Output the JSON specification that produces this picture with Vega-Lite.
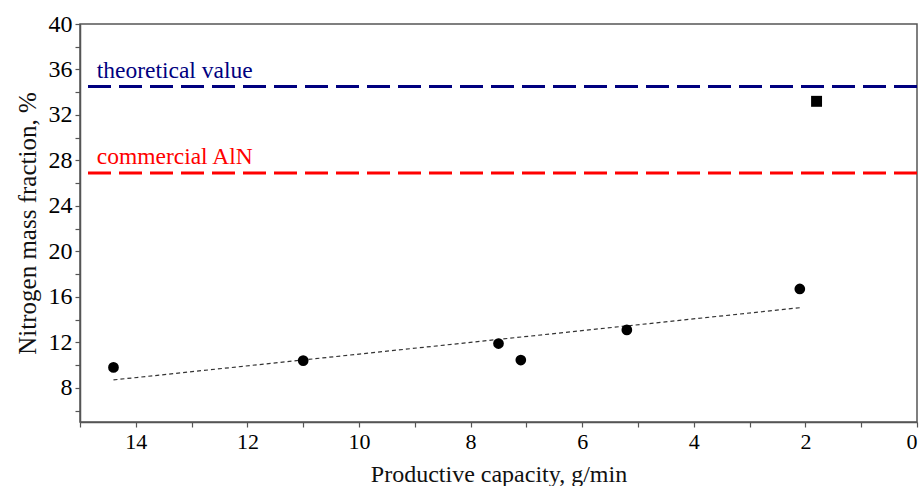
{
  "$schema": "https://vega.github.io/schema/vega-lite/v6.json",
  "width": 837,
  "height": 398,
  "autosize": "none",
  "padding": {"left": 80, "top": 24, "right": 5, "bottom": 64},
  "background": "white",
  "config": {
    "view": {"stroke": "#555555", "strokeWidth": 1.5},
    "font": "Liberation Serif",
    "axis": {
      "grid": false,
      "domainColor": "#555555",
      "domainWidth": 1.5,
      "tickColor": "#555555",
      "tickWidth": 1.2,
      "tickSize": 5,
      "labelOverlap": false,
      "titleFontWeight": "normal",
      "titleColor": "#111111"
    }
  },
  "datasets": {
    "points": [
      {"cap": 14.4, "n": 9.8},
      {"cap": 11.0, "n": 10.4},
      {"cap": 7.5, "n": 11.9},
      {"cap": 7.1, "n": 10.45},
      {"cap": 5.2, "n": 13.1},
      {"cap": 2.1, "n": 16.7}
    ],
    "square": [{"cap": 1.8, "n": 33.2}],
    "trend": [
      {"cap": 14.4, "n": 8.7},
      {"cap": 2.1, "n": 15.05}
    ],
    "refs": [
      {"label": "theoretical value", "n": 34.5, "tx": 14.7, "kind": "theo"},
      {"label": "commercial AlN", "n": 26.9, "tx": 14.7, "kind": "comm"}
    ]
  },
  "encoding": {
    "y": {
      "field": "n", "type": "quantitative",
      "scale": {"domain": [5, 40], "nice": false, "zero": false},
      "axis": {
        "title": "Nitrogen mass fraction, %",
        "values": [6, 8, 10, 12, 14, 16, 18, 20, 22, 24, 26, 28, 30, 32, 34, 36, 38, 40],
        "labelExpr": "datum.value % 4 == 0 ? datum.label : ''",
        "titleFontSize": 25,
        "labelFontSize": 24,
        "labelPadding": 3,
        "titlePadding": 8,
        "encode": {
          "labels": {"update": {"font": {"value": "Liberation Serif"}, "fontSize": {"value": 24}, "fill": {"value": "#111111"}}}
        }
      }
    }
  },
  "layer": [
    {
      "data": {"name": "refs"},
      "transform": [{"filter": "datum.kind == 'theo'"}],
      "mark": {"type": "rule", "color": "#00007F", "strokeWidth": 3, "strokeDash": [23, 8]}
    },
    {
      "data": {"name": "refs"},
      "transform": [{"filter": "datum.kind == 'comm'"}],
      "mark": {"type": "rule", "color": "#FF0000", "strokeWidth": 3, "strokeDash": [23, 8]}
    },
    {
      "data": {"name": "refs"},
      "mark": {"type": "text", "align": "left", "baseline": "alphabetic", "dy": -9, "fontSize": 23.5, "font": "Liberation Serif"},
      "encoding": {
        "x": {"field": "tx", "type": "quantitative"},
        "text": {"field": "label"},
        "color": {
          "field": "kind", "type": "nominal",
          "scale": {"domain": ["theo", "comm"], "range": ["#00007F", "#FF0000"]},
          "legend": null
        }
      }
    },
    {
      "data": {"name": "trend"},
      "mark": {"type": "line", "color": "#333333", "strokeWidth": 1.2, "strokeDash": [4, 3]},
      "encoding": {
        "x": {"field": "cap", "type": "quantitative"}
      }
    },
    {
      "data": {"name": "points"},
      "mark": {"type": "point", "shape": "circle", "filled": true, "color": "#000000", "opacity": 1, "size": 115},
      "encoding": {
        "x": {
          "field": "cap", "type": "quantitative",
          "scale": {"domain": [0, 15], "reverse": true, "nice": false, "zero": false},
          "axis": {
            "title": "Productive capacity, g/min",
            "values": [0, 1, 2, 3, 4, 5, 6, 7, 8, 9, 10, 11, 12, 13, 14, 15],
            "labelExpr": "datum.value % 2 == 0 ? datum.label : ''",
            "titleFontSize": 24,
            "labelFontSize": 22,
            "labelPadding": 4,
            "titlePadding": 10,
            "encode": {
              "labels": {"update": {"font": {"value": "Liberation Serif"}, "fontSize": {"value": 22}, "fill": {"value": "#111111"}}}
            }
          }
        }
      }
    },
    {
      "data": {"name": "square"},
      "mark": {"type": "point", "shape": "square", "filled": true, "color": "#000000", "opacity": 1, "size": 120},
      "encoding": {
        "x": {"field": "cap", "type": "quantitative"}
      }
    }
  ]
}
